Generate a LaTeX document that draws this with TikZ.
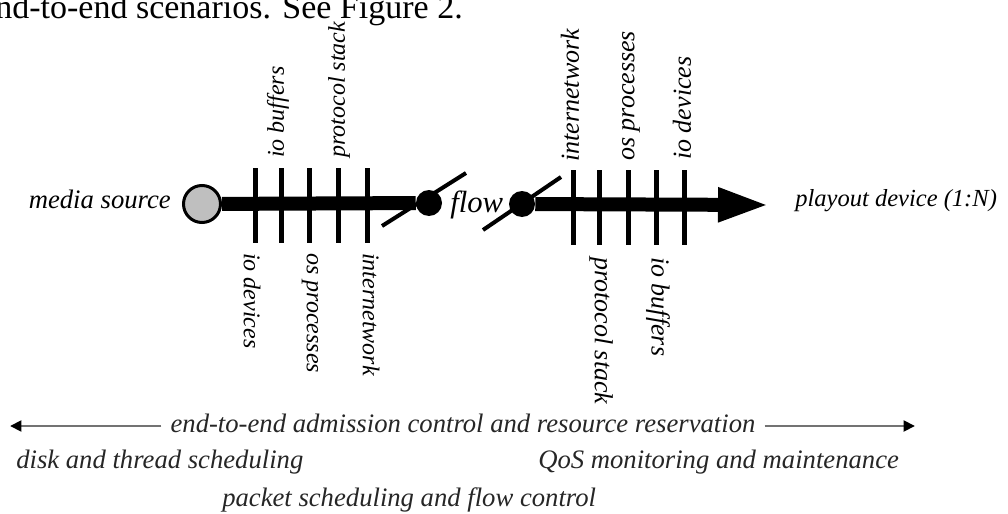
\documentclass[tikz,border=0pt]{standalone}
\usepackage{fontspec}
\setmainfont{Liberation Serif}
\usetikzlibrary{arrows.meta}
\begin{document}
\begin{tikzpicture}[x=0.75pt,y=-0.75pt,
  lbl/.style={font=\fontsize{18}{18}\selectfont\itshape, inner sep=0pt},
  lblr/.style={font=\fontsize{19.5}{19.5}\selectfont\itshape, inner sep=0pt},
  upl/.style={rotate=90, anchor=west},
  downl/.style={rotate=-90, anchor=west},
  axis/.style={line width=10.5pt},
  tickmark/.style={line width=3.75pt},
  slash/.style={line width=3pt},
  dot/.style={circle, fill=black, minimum size=19.5pt, inner sep=0pt},
  bottomtxt/.style={font=\fontsize{20}{20}\selectfont\itshape, text=black!85, inner sep=0pt},
  span/.style={line width=2.2pt, draw=black!55, -{Triangle[length=8.5pt,width=8pt,color=black]}},
]
\useasboundingbox (0,0) rectangle (1008,514);
\clip (0,0) rectangle (1008,514);

% cut-off text line at top
\node[font=\fontsize{25.5}{25.5}\selectfont, anchor=base east, inner sep=0pt] (top) at (463,18) {end-to-end scenarios. See Figure 2.};

% source, dots, arrow end
\node[circle, draw=black, line width=2.25pt, fill=black!25, minimum size=27.75pt, inner sep=0pt] (src) at (202,204) {};
\node[dot] (d1) at (429,203) {};
\node[dot] (d2) at (522,204) {};
\coordinate (tip) at (770,205);

\draw[axis] (src) -- (d1);
\draw[axis, -{Triangle[length=39pt,width=23.25pt]}] (d2) -- (tip);

% ticks
\foreach \x in {255,281,309.5,338,367} \draw[tickmark] (\x,168) -- (\x,243);
\foreach \x in {573,599,628,656,684} \draw[tickmark] (\x,170) -- (\x,245);

% slashes
\draw[slash] (382,226) -- (466,173);
\draw[slash] (483,230) -- (561,177);

% flow label
\node[font=\fontsize{23}{23}\selectfont\itshape, inner sep=0pt, anchor=base west] (flow) at (450,212) {flow};

% end labels
\node[font=\fontsize{20}{20}\selectfont\itshape, anchor=base east, inner sep=0pt] (ms) at (171,208) {media source};
\node[font=\fontsize{18.4}{18.4}\selectfont\itshape, anchor=base west, inner sep=0pt] (pd) at (795,206) {playout device (1:N)};

% left labels
\node[lbl,upl] (l1) at (278,158) {io buffers};
\node[lbl,upl] (l2) at (339,158) {protocol stack};
\node[lbl,downl] (l3) at (252,253) {io devices};
\node[lbl,downl] (l4) at (310,253) {os processes};
\node[lbl,downl] (l5) at (371,253) {internetwork};

% right labels
\node[lblr,upl] (r1) at (570,162) {internetwork};
\node[lblr,upl] (r2) at (631,161) {os processes};
\node[lblr,upl] (r3) at (682,160) {io devices};
\node[lblr,downl] (r4) at (601,257) {protocol stack};
\node[lblr,downl] (r5) at (658,257) {io buffers};

% bottom
\coordinate (lend) at (10,426);
\coordinate (rend) at (915,426);
\node[bottomtxt, inner xsep=6.75pt, anchor=base] (e2e) at (463,432) {end-to-end admission control and resource reservation};
\draw[span] (e2e.west |- lend) -- (lend);
\draw[span] (e2e.east |- rend) -- (rend);

\node[bottomtxt, anchor=base west] (disk) at (16,468) {disk and thread scheduling};
\node[bottomtxt, anchor=base west] (qos) at (538,468) {QoS monitoring and maintenance};
\node[bottomtxt, anchor=base west] (pkt) at (222,506) {packet scheduling and flow control};
\end{tikzpicture}
\end{document}
